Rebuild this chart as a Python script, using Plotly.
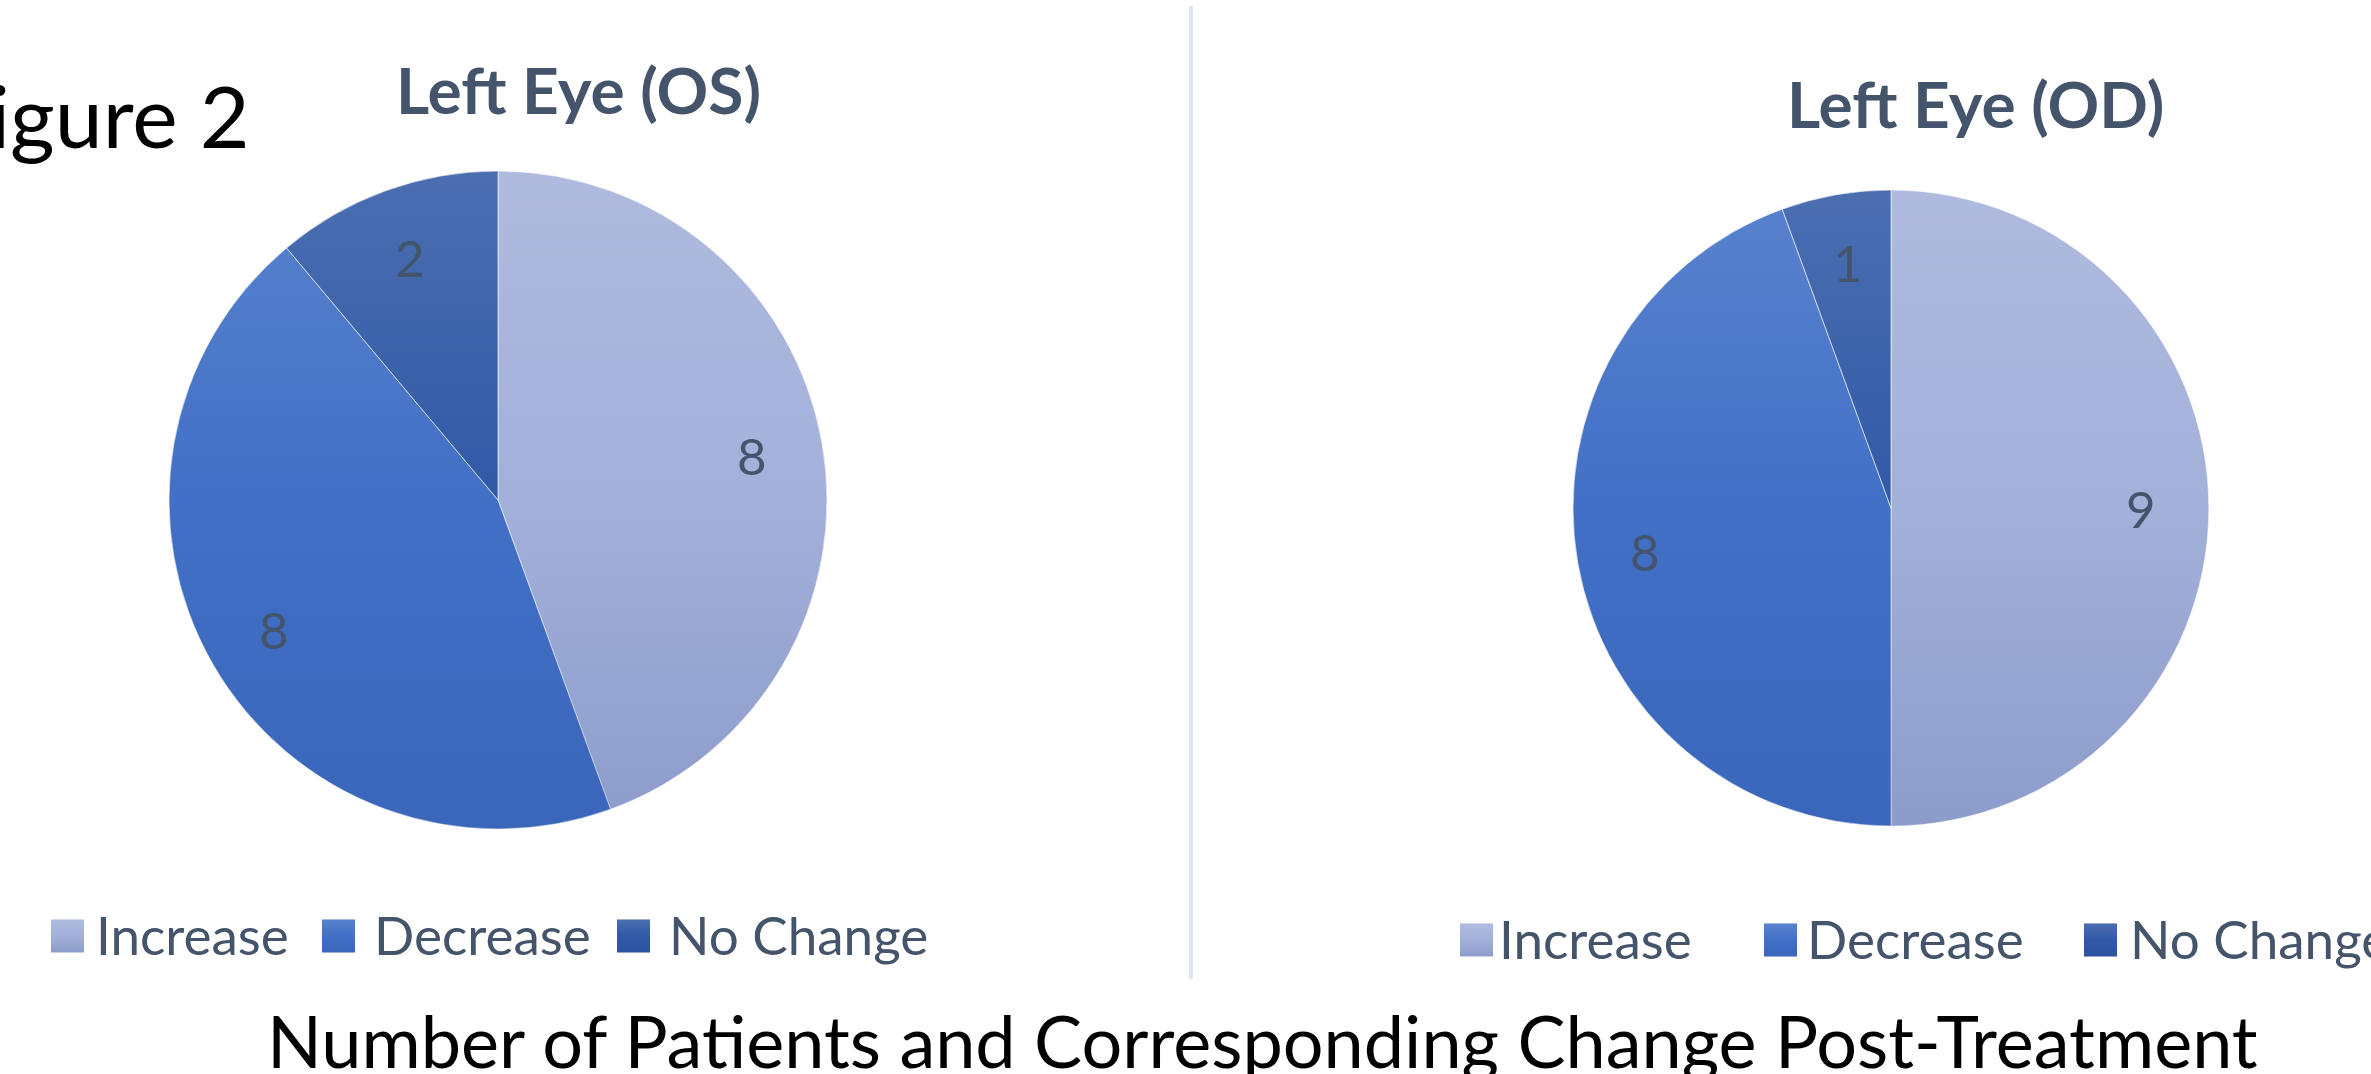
import math
import base64
import plotly.graph_objects as go

# ---- data ----
categories = ["Increase", "Decrease", "No Change"]
os_values = [8, 8, 2]
od_values = [9, 8, 1]
panel_titles = ["Left Eye (OS)", "Left Eye (OD)"]
main_title = "Number of Patients and Corresponding Change Post-Treatment"
figure_label = "Figure 2"
colors = ["#A3B0D9", "#4170C6", "#3159A6"]

W, H = 2371, 1074
TEXT = "#44546A"
FONT = "Lato"


def px(x):
    return x / W


def py(y):
    return 1 - y / H


def gradient_uri(shape):
    """Soft vertical shading (light top, darker bottom) like Office gradient fills."""
    body = ('<circle cx="50" cy="50" r="50" fill="url(#g)"/>' if shape == "circle"
            else '<rect x="0" y="0" width="100" height="100" fill="url(#g)"/>')
    svg = ('<svg xmlns="http://www.w3.org/2000/svg" width="100" height="100" '
           'viewBox="0 0 100 100" preserveAspectRatio="none">'
           '<defs><linearGradient id="g" x1="0" y1="0" x2="0" y2="1">'
           '<stop offset="0" stop-color="#ffffff" stop-opacity="0.13"/>'
           '<stop offset="0.5" stop-color="#ffffff" stop-opacity="0"/>'
           '<stop offset="0.5" stop-color="#14327d" stop-opacity="0"/>'
           '<stop offset="1" stop-color="#14327d" stop-opacity="0.16"/>'
           '</linearGradient></defs>' + body + '</svg>')
    return "data:image/svg+xml;base64," + base64.b64encode(svg.encode()).decode()


CIRCLE_URI = gradient_uri("circle")
RECT_URI = gradient_uri("rect")

fig = go.Figure()

panels = [
    dict(values=os_values, cx=498, cy=500, r=329, title=panel_titles[0], tx=578, ty=90,
         sq=[51, 322, 617], txt=[94, 372, 667], ly=936),
    dict(values=od_values, cx=1891, cy=508, r=318, title=panel_titles[1], tx=1975, ty=103,
         sq=[1460, 1764, 2084], txt=[1497, 1805, 2128], ly=940),
]

annotations = []
shapes = []
images = []

for i, p in enumerate(panels):
    cx, cy, r = p["cx"], p["cy"], p["r"]
    fig.add_trace(go.Pie(
        labels=categories,
        values=p["values"],
        sort=False,
        direction="clockwise",
        rotation=0,
        marker=dict(colors=colors, line=dict(color="rgba(255,255,255,0.6)", width=1)),
        textinfo="none",
        hoverinfo="label+value",
        showlegend=False,
        domain=dict(x=[px(cx - r), px(cx + r)], y=[py(cy + r), py(cy - r)]),
    ))
    images.append(dict(source=CIRCLE_URI, xref="paper", yref="paper",
                       x=px(cx - r), y=py(cy - r), sizex=2 * r / W, sizey=2 * r / H,
                       xanchor="left", yanchor="top", sizing="stretch", layer="above"))
    # data labels placed along each slice's bisector
    total = sum(p["values"])
    start = 0.0
    for v in p["values"]:
        span = 360.0 * v / total
        mid = math.radians(start + span / 2)
        lx = cx + 0.785 * r * math.sin(mid)
        ly = cy - 0.785 * r * math.cos(mid)
        annotations.append(dict(x=px(lx), y=py(ly), xref="paper", yref="paper",
                                text=str(v), showarrow=False,
                                font=dict(family=FONT, size=51, color=TEXT),
                                xanchor="center", yanchor="middle"))
        start += span
    # panel title
    annotations.append(dict(x=px(p["tx"]), y=py(p["ty"]), xref="paper", yref="paper",
                            text="<b>%s</b>" % p["title"], showarrow=False,
                            font=dict(family=FONT, size=64, color=TEXT),
                            xanchor="center", yanchor="middle"))
    # legend
    for k, cat in enumerate(categories):
        sx = p["sq"][k]
        shapes.append(dict(type="rect", xref="paper", yref="paper", layer="below",
                           x0=px(sx), x1=px(sx + 33),
                           y0=py(p["ly"] + 16.5), y1=py(p["ly"] - 16.5),
                           fillcolor=colors[k], line=dict(width=0)))
        images.append(dict(source=RECT_URI, xref="paper", yref="paper",
                           x=px(sx), y=py(p["ly"] - 16.5), sizex=33 / W, sizey=33 / H,
                           xanchor="left", yanchor="top", sizing="stretch", layer="above"))
        annotations.append(dict(x=px(p["txt"][k]), y=py(p["ly"] - 2), xref="paper", yref="paper",
                                text=cat, showarrow=False,
                                font=dict(family=FONT, size=53, color=TEXT),
                                xanchor="left", yanchor="middle"))

# divider between the two charts
shapes.append(dict(type="line", xref="paper", yref="paper", layer="below",
                   x0=px(1191), x1=px(1191), y0=py(6), y1=py(979),
                   line=dict(color="#DEE4EB", width=4)))

# figure label (its first letter falls off the left edge, as in the source)
annotations.append(dict(x=px(252), y=py(114), xref="paper", yref="paper",
                        text=figure_label, showarrow=False,
                        font=dict(family=FONT, size=86, color="#000000"),
                        xanchor="right", yanchor="middle"))

# overall caption
annotations.append(dict(x=px(1262), y=py(1040), xref="paper", yref="paper",
                        text=main_title, showarrow=False,
                        font=dict(family=FONT, size=72, color="#000000"),
                        xanchor="center", yanchor="middle"))

fig.update_layout(
    width=W, height=H,
    margin=dict(l=0, r=0, t=0, b=0),
    paper_bgcolor="white",
    plot_bgcolor="white",
    annotations=annotations,
    shapes=shapes,
    images=images,
    showlegend=False,
)

fig.write_html("out.html")
